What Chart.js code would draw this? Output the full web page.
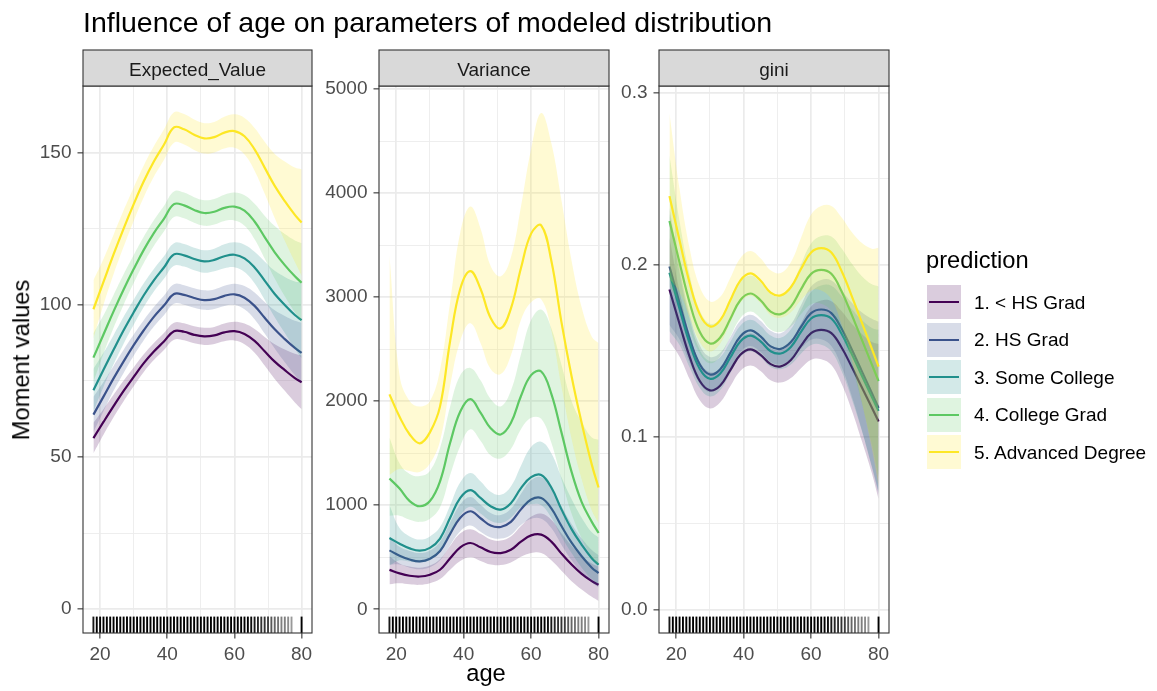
<!DOCTYPE html>
<html>
<head>
<meta charset="utf-8">
<script src="https://cdn.jsdelivr.net/npm/chart.js@4.4.1/dist/chart.umd.min.js"></script>
<style>
  html, body { margin: 0; padding: 0; background: #ffffff; }
  #wrap { position: relative; width: 1157px; height: 691px; overflow: hidden;
          font-family: "Liberation Sans", Arial, Helvetica, sans-serif; }
  #wrap canvas { position: absolute; left: 0; top: 0; }
  .txt { position: absolute; white-space: nowrap; line-height: 1; }
  .key { position: absolute; width: 34.3px; height: 34.3px; }
  .keyline { position: absolute; left: 2.6px; width: 30px; height: 2px; top: 16.15px; }
</style>
</head>
<body>
<div id="wrap">
  <canvas id="panelEV" width="1157" height="691"></canvas>
  <canvas id="panelVar" width="1157" height="691"></canvas>
  <canvas id="panelGini" width="1157" height="691"></canvas>

  <div class="txt" style="left:83px; top:8.4px; font-size:28.5px; color:#000;">Influence of age on parameters of modeled distribution</div>
  <div class="txt" style="left:21.8px; top:359.5px; font-size:23.7px; color:#000; transform:translate(-50%,-50%) rotate(-90deg);">Moment values</div>
  <div class="txt" style="left:486px; top:662px; font-size:23.7px; color:#000; transform:translateX(-50%);">age</div>
  <div id="legend"></div>
</div>

<script>
// ---- ages at which the smoothed curves are tabulated ----
const ages = [18, 21, 24, 27, 30, 33, 36, 39, 42, 45, 48, 51, 54, 57, 60, 63, 66, 69, 72, 75, 78, 80];

// ---- education groups ----
const groupNames  = ['1. < HS Grad', '2. HS Grad', '3. Some College', '4. College Grad', '5. Advanced Degree'];
const groupColors = ['#440154', '#3B528B', '#21908C', '#5DC863', '#FDE725'];

// ---- Expected_Value: fitted curve and band half-width ----
const evLessHS   = [56.2, 61.5, 66.7, 71.7, 76.3, 80.8, 84.6, 87.9, 91.3, 91.1, 90.1, 89.6, 89.9, 90.9, 91.3, 90.4, 88.1, 84.7, 81.3, 78.5, 75.9, 74.5];
const evHS       = [63.9, 69.8, 75.8, 81.4, 86.7, 91.6, 96.0, 99.7, 103.5, 103.2, 102.2, 101.5, 101.8, 102.9, 103.4, 102.3, 99.6, 95.7, 91.9, 88.7, 85.8, 84.2];
const evSomeCol  = [71.9, 78.6, 85.2, 91.6, 97.5, 103.1, 108.0, 112.2, 116.5, 116.2, 115.0, 114.2, 114.7, 115.9, 116.4, 115.2, 112.2, 107.9, 103.5, 99.9, 96.6, 94.9];
const evColGrad  = [82.6, 90.2, 97.8, 105.0, 111.7, 118.0, 123.5, 128.2, 133.0, 132.6, 131.1, 130.1, 130.5, 131.8, 132.2, 130.9, 127.3, 122.2, 117.2, 113.0, 109.3, 107.2];
const evAdvDeg   = [98.5, 107.5, 116.5, 125.0, 133.0, 140.5, 147.0, 152.5, 158.2, 157.6, 155.8, 154.6, 155.0, 156.5, 157.0, 155.3, 151.0, 145.0, 139.0, 134.0, 129.5, 127.0];

const evLessHSSe  = [5.0, 4.2, 3.7, 3.4, 3.1, 2.9, 2.8, 2.8, 2.8, 2.8, 2.8, 2.8, 2.8, 2.9, 3.1, 3.4, 3.9, 4.7, 5.7, 6.8, 8.0, 8.8];
const evHSSe      = [5.8, 4.8, 4.1, 3.8, 3.5, 3.3, 3.2, 3.2, 3.2, 3.2, 3.2, 3.2, 3.2, 3.3, 3.5, 3.8, 4.4, 5.2, 6.3, 7.6, 8.9, 9.9];
const evSomeColSe = [7.0, 5.6, 4.8, 4.4, 4.1, 3.9, 3.7, 3.7, 3.7, 3.7, 3.7, 3.7, 3.7, 3.9, 4.1, 4.5, 5.2, 6.3, 7.6, 9.2, 11.0, 12.5];
const evColGradSe = [8.0, 6.3, 5.4, 5.0, 4.6, 4.3, 4.2, 4.2, 4.2, 4.2, 4.2, 4.2, 4.2, 4.3, 4.6, 5.0, 5.8, 7.0, 8.6, 10.2, 11.8, 13.0];
const evAdvDegSe  = [9.5, 7.5, 6.5, 6.0, 5.5, 5.2, 5.0, 5.0, 5.0, 5.0, 5.0, 5.0, 5.0, 5.2, 5.5, 6.0, 7.0, 8.5, 10.5, 13.0, 15.5, 17.5];

// ---- Variance: fitted curve with lower / upper band ----
const varLessHS    = [379, 345, 322, 315, 332, 380, 490, 595, 637, 595, 550, 540, 572, 650, 710, 717, 650, 535, 430, 340, 270, 235];
const varHS        = [566, 515, 478, 460, 485, 560, 725, 880, 942, 875, 805, 791, 840, 960, 1055, 1070, 970, 800, 640, 510, 400, 347];
const varSomeCol   = [685, 630, 585, 563, 590, 680, 880, 1070, 1145, 1070, 990, 958, 1020, 1165, 1270, 1290, 1170, 960, 770, 620, 490, 428];
const varColGrad   = [1257, 1160, 1040, 990, 1040, 1230, 1600, 1900, 2019, 1890, 1740, 1680, 1790, 2050, 2250, 2285, 2070, 1700, 1320, 1030, 840, 733];
const varAdvDeg    = [2065, 1850, 1680, 1595, 1700, 1950, 2580, 3080, 3250, 3080, 2800, 2700, 2890, 3280, 3610, 3690, 3350, 2760, 2240, 1790, 1390, 1170];

const varLessHSLo  = [240, 250, 240, 235, 250, 290, 380, 465, 500, 465, 430, 425, 450, 505, 540, 540, 470, 370, 270, 190, 120, 80];
const varLessHSHi  = [510, 440, 410, 400, 420, 480, 610, 730, 770, 725, 670, 660, 700, 800, 890, 920, 860, 730, 610, 510, 440, 410];
const varHSLo      = [430, 430, 400, 385, 405, 470, 615, 750, 805, 745, 690, 680, 715, 810, 870, 870, 780, 620, 470, 350, 260, 210];
const varHSHi      = [700, 600, 560, 540, 565, 650, 835, 1010, 1080, 1005, 925, 905, 965, 1110, 1240, 1270, 1170, 990, 820, 680, 570, 520];
const varSomeColLo = [420, 470, 460, 450, 470, 550, 720, 900, 985, 920, 850, 830, 880, 980, 1010, 1000, 880, 700, 540, 400, 290, 240];
const varSomeColHi = [1000, 780, 700, 670, 700, 790, 1000, 1220, 1310, 1230, 1130, 1100, 1180, 1380, 1560, 1610, 1500, 1270, 1060, 880, 740, 690];
const varColGradLo = [900, 900, 860, 840, 870, 980, 1290, 1570, 1730, 1620, 1480, 1450, 1540, 1730, 1840, 1830, 1600, 1250, 920, 680, 500, 420];
const varColGradHi = [1650, 1400, 1300, 1280, 1330, 1550, 1950, 2250, 2320, 2200, 2020, 1950, 2100, 2450, 2780, 2880, 2700, 2350, 2000, 1800, 1650, 1630];
const varAdvDegLo  = [1290, 1350, 1330, 1320, 1400, 1620, 2150, 2580, 2750, 2560, 2310, 2260, 2440, 2780, 2950, 2980, 2680, 2140, 1640, 1250, 950, 830];
const varAdvDegHi  = [3400, 2250, 2000, 1950, 2000, 2300, 2950, 3620, 3870, 3660, 3300, 3200, 3380, 3870, 4420, 4770, 4480, 3930, 3350, 2900, 2620, 2560];

// ---- gini: fitted curve and band half-width ----
const giniLessHS  = [0.1856, 0.1656, 0.1465, 0.1325, 0.1271, 0.1298, 0.1387, 0.1477, 0.1509, 0.1477, 0.1423, 0.1410, 0.1447, 0.1529, 0.1603, 0.1622, 0.1603, 0.1521, 0.1409, 0.1290, 0.1171, 0.1090];
const giniHS      = [0.1990, 0.1776, 0.1571, 0.1421, 0.1363, 0.1392, 0.1487, 0.1584, 0.1619, 0.1584, 0.1526, 0.1512, 0.1551, 0.1639, 0.1719, 0.1740, 0.1719, 0.1631, 0.1511, 0.1384, 0.1256, 0.1169];
const giniSomeCol = [0.1954, 0.1744, 0.1543, 0.1395, 0.1338, 0.1367, 0.1460, 0.1555, 0.1589, 0.1555, 0.1498, 0.1485, 0.1523, 0.1610, 0.1688, 0.1708, 0.1688, 0.1601, 0.1484, 0.1359, 0.1233, 0.1152];
const giniColGrad = [0.2254, 0.2012, 0.1779, 0.1609, 0.1543, 0.1576, 0.1684, 0.1794, 0.1833, 0.1794, 0.1728, 0.1713, 0.1757, 0.1857, 0.1947, 0.1970, 0.1947, 0.1847, 0.1712, 0.1567, 0.1422, 0.1324];
const giniAdvDeg  = [0.2398, 0.2140, 0.1893, 0.1712, 0.1642, 0.1677, 0.1792, 0.1908, 0.1950, 0.1908, 0.1838, 0.1822, 0.1869, 0.1975, 0.2071, 0.2096, 0.2071, 0.1965, 0.1821, 0.1667, 0.1513, 0.1408];

const giniLessHSSe  = [0.030, 0.019, 0.013, 0.0112, 0.0105, 0.0098, 0.0094, 0.0094, 0.0094, 0.0094, 0.0094, 0.0094, 0.0105, 0.013, 0.0155, 0.017, 0.0185, 0.021, 0.025, 0.031, 0.038, 0.045];
const giniHSSe      = [0.034, 0.021, 0.014, 0.011, 0.0102, 0.0095, 0.0091, 0.0091, 0.0091, 0.0091, 0.0091, 0.0091, 0.0102, 0.0126, 0.0154, 0.0172, 0.019, 0.022, 0.027, 0.034, 0.043, 0.050];
const giniSomeColSe = [0.034, 0.021, 0.014, 0.011, 0.0102, 0.0095, 0.0091, 0.0091, 0.0091, 0.0091, 0.0091, 0.0091, 0.0102, 0.0126, 0.0154, 0.0172, 0.019, 0.0217, 0.026, 0.032, 0.040, 0.047];
const giniColGradSe = [0.038, 0.024, 0.016, 0.0125, 0.0115, 0.0108, 0.0104, 0.0104, 0.0104, 0.0104, 0.0104, 0.0104, 0.0116, 0.0144, 0.0176, 0.0196, 0.0216, 0.0248, 0.0296, 0.0368, 0.0464, 0.055];
const giniAdvDegSe  = [0.048, 0.030, 0.020, 0.016, 0.0145, 0.0135, 0.013, 0.013, 0.013, 0.013, 0.013, 0.013, 0.0145, 0.018, 0.022, 0.0245, 0.027, 0.031, 0.037, 0.046, 0.058, 0.069];

// ---- observed ages shown as a rug, with their shade ----
const rugAges  = [18, 19, 20, 21, 22, 23, 24, 25, 26, 27, 28, 29, 30, 31, 32, 33, 34, 35, 36, 37, 38, 39, 40, 41, 42, 43, 44, 45, 46, 47,
                  48, 49, 50, 51, 52, 53, 54, 55, 56, 57, 58, 59, 60, 61, 62, 63, 64, 65, 66, 67, 68, 69, 70, 71, 72, 73, 74, 75, 76, 77, 80];
const rugShade = [0.9, 1, 1, 1, 1, 1, 1, 1, 1, 1, 1, 1, 1, 1, 1, 1, 1, 1, 1, 1, 1, 1, 1, 1, 1, 1, 1, 1, 1, 1,
                  1, 1, 1, 1, 1, 1, 1, 1, 1, 1, 1, 1, 1, 1, 1, 1, 1, 0.95, 0.9, 0.85, 0.8, 0.8, 0.75, 0.65, 0.6, 0.55, 0.5, 0.5, 0.45, 0.4, 1];

// ---- axis breaks and labels ----
const ageBreaks      = [20, 40, 60, 80];
const ageMinorBreaks = [30, 50, 70];
const evBreaks       = [0, 50, 100, 150];
const evMinorBreaks  = [25, 75, 125];
const varBreaks      = [0, 1000, 2000, 3000, 4000, 5000];
const varMinorBreaks = [500, 1500, 2500, 3500, 4500];
const giniBreaks     = [0, 0.1, 0.2, 0.3];
const giniBreakText  = ['0.0', '0.1', '0.2', '0.3'];
const giniMinorBreaks = [0.05, 0.15, 0.25];

// ---- drawing helpers ----
const FONT = '"Liberation Sans", Arial, Helvetica, sans-serif';
const RIBBON_ALPHA = 0.2;
const W = 1157, H = 691;
const PANEL_TOP = 86, PANEL_BOTTOM = 633, STRIP_H = 36;
const Y_AXIS_W = 62, X_AXIS_H = 30;

function rgba(hex, a) {
  const n = parseInt(hex.slice(1), 16);
  return `rgba(${(n >> 16) & 255},${(n >> 8) & 255},${n & 255},${a})`;
}
function pts(ys) { return ages.map((a, i) => ({ x: a, y: ys[i] })); }
function near(a, b) { return Math.abs(a - b) < 1e-9; }

// strip, frame and rug around each facet
const facetDecor = {
  id: 'facetDecor',
  afterDatasetsDraw(chart) {
    const ctx = chart.ctx, xs = chart.scales.x, area = chart.chartArea;
    const len = 0.03 * (area.bottom - area.top);
    ctx.save();
    ctx.lineWidth = 1.9;
    rugAges.forEach((a, i) => {
      const px = xs.getPixelForValue(a);
      ctx.strokeStyle = `rgba(0,0,0,${rugShade[i]})`;
      ctx.beginPath();
      ctx.moveTo(px, area.bottom);
      ctx.lineTo(px, area.bottom - len);
      ctx.stroke();
    });
    ctx.restore();
  },
  afterDraw(chart, args, opts) {
    const ctx = chart.ctx, area = chart.chartArea;
    ctx.save();
    // panel border
    ctx.strokeStyle = '#333333';
    ctx.lineWidth = 1.1;
    ctx.strokeRect(area.left, area.top, area.right - area.left, area.bottom - area.top);
    // strip
    const st = area.top - STRIP_H;
    ctx.fillStyle = '#D9D9D9';
    ctx.fillRect(area.left, st, area.right - area.left, STRIP_H);
    ctx.strokeRect(area.left, st, area.right - area.left, STRIP_H);
    ctx.fillStyle = '#1A1A1A';
    ctx.font = `19px ${FONT}`;
    ctx.textAlign = 'center';
    ctx.textBaseline = 'alphabetic';
    ctx.fillText(opts.label, (area.left + area.right) / 2, st + 25.6);
    ctx.restore();
  }
};

function ribbonDatasets(fits, los, his) {
  const ds = [];
  let seq = 0;
  fits.forEach((fit, g) => {
    const col = groupColors[g];
    const base = ds.length;
    ds.push({ data: pts(his[g]), fill: base + 1, backgroundColor: rgba(col, RIBBON_ALPHA),
              borderColor: 'rgba(0,0,0,0)', borderWidth: 0, pointRadius: 0, tension: 0.4, order: 100 - seq++ });
    ds.push({ data: pts(los[g]), fill: false, borderColor: 'rgba(0,0,0,0)', borderWidth: 0,
              pointRadius: 0, tension: 0.4, order: 100 - seq++ });
    ds.push({ data: pts(fit), fill: false, borderColor: col, borderWidth: 2.2, pointRadius: 0,
              tension: 0.4, order: 100 - seq++ });
  });
  return ds;
}

function gridOpts(major) {
  return {
    color: '#EBEBEB',
    lineWidth: c => major.some(v => near(v, c.tick.value)) ? 1.7 : 0.85,
    tickColor: c => major.some(v => near(v, c.tick.value)) ? '#333333' : 'rgba(0,0,0,0)',
    tickLength: 5.5,
    tickWidth: 1.1
  };
}

function makeFacet(id, label, left, right, yMin, yMax, yMajor, yMinor, yText, datasets) {
  const xTicks = ageBreaks.concat(ageMinorBreaks).sort((a, b) => a - b);
  const yTicks = yMajor.concat(yMinor).sort((a, b) => a - b);
  return new Chart(document.getElementById(id), {
    type: 'line',
    data: { datasets },
    options: {
      responsive: false, animation: false, devicePixelRatio: 1, events: [],
      layout: { padding: { left: left - Y_AXIS_W, right: W - right, top: PANEL_TOP, bottom: H - PANEL_BOTTOM - X_AXIS_H } },
      plugins: { legend: { display: false }, tooltip: { enabled: false }, facetDecor: { label } },
      scales: {
        x: {
          type: 'linear', min: 14.9, max: 83.1,
          afterBuildTicks: s => { s.ticks = xTicks.map(v => ({ value: v })); },
          afterFit: s => { s.height = X_AXIS_H; },
          grid: gridOpts(ageBreaks),
          border: { display: false },
          ticks: {
            autoSkip: false, maxRotation: 0, minRotation: 0, padding: 4.5,
            color: '#4D4D4D', font: { family: FONT, size: 19 },
            callback: v => ageBreaks.includes(v) ? String(v) : ''
          }
        },
        y: {
          type: 'linear', min: yMin, max: yMax,
          afterBuildTicks: s => { s.ticks = yTicks.map(v => ({ value: v })); },
          afterFit: s => { s.width = Y_AXIS_W; },
          grid: gridOpts(yMajor),
          border: { display: false },
          ticks: {
            autoSkip: false, padding: 6,
            color: '#4D4D4D', font: { family: FONT, size: 19 },
            callback: v => {
              const k = yMajor.findIndex(m => near(m, v));
              return k < 0 ? '' : yText[k];
            }
          }
        }
      }
    },
    plugins: [facetDecor]
  });
}

// Expected_Value facet
const evFits = [evLessHS, evHS, evSomeCol, evColGrad, evAdvDeg];
const evSes  = [evLessHSSe, evHSSe, evSomeColSe, evColGradSe, evAdvDegSe];
makeFacet('panelEV', 'Expected_Value', 83, 312, -7.8, 171.8, evBreaks, evMinorBreaks, evBreaks.map(String),
  ribbonDatasets(evFits,
                 evFits.map((f, g) => f.map((v, i) => v - evSes[g][i])),
                 evFits.map((f, g) => f.map((v, i) => v + evSes[g][i]))));

// Variance facet
makeFacet('panelVar', 'Variance', 379, 609, -228, 5029, varBreaks, varMinorBreaks, varBreaks.map(String),
  ribbonDatasets([varLessHS, varHS, varSomeCol, varColGrad, varAdvDeg],
                 [varLessHSLo, varHSLo, varSomeColLo, varColGradLo, varAdvDegLo],
                 [varLessHSHi, varHSHi, varSomeColHi, varColGradHi, varAdvDegHi]));

// gini facet
const giniFits = [giniLessHS, giniHS, giniSomeCol, giniColGrad, giniAdvDeg];
const giniSes  = [giniLessHSSe, giniHSSe, giniSomeColSe, giniColGradSe, giniAdvDegSe];
makeFacet('panelGini', 'gini', 659, 889, -0.0137, 0.3037, giniBreaks, giniMinorBreaks, giniBreakText,
  ribbonDatasets(giniFits,
                 giniFits.map((f, g) => f.map((v, i) => v - giniSes[g][i])),
                 giniFits.map((f, g) => f.map((v, i) => v + giniSes[g][i]))));

// legend
(function buildLegend() {
  const host = document.getElementById('legend');
  let html = '<div class="txt" style="left:926px; top:249px; font-size:23.7px; color:#000;">prediction</div>';
  groupNames.forEach((name, g) => {
    const cy = 302.2 + g * 37.5;
    html += `<div class="key" style="left:926.7px; top:${cy - 17.15}px; background:${rgba(groupColors[g], RIBBON_ALPHA)};">` +
            `<div class="keyline" style="background:${groupColors[g]};"></div></div>`;
    html += `<div class="txt" style="left:974px; top:${cy - 9.3}px; font-size:19px; color:#000;">${name.replace('<', '&lt;')}</div>`;
  });
  host.innerHTML = html;
})();
</script>
</body>
</html>
